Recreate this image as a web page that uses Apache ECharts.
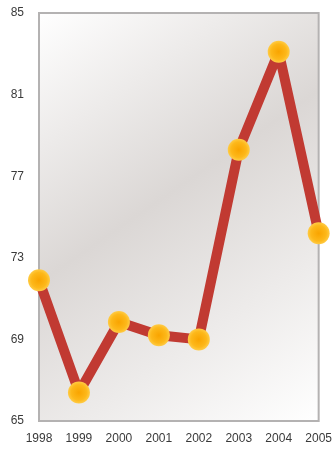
<!DOCTYPE html>
<html>
<head>
<meta charset="utf-8">
<script src="https://cdn.jsdelivr.net/npm/echarts@6/dist/echarts.min.js"></script>
<style>
  html, body { margin: 0; padding: 0; background: #ffffff; }
  #chart { width: 335px; height: 449px; }
</style>
</head>
<body>
<div id="chart"></div>
<script>
// Yearly series
const years = ['1998', '1999', '2000', '2001', '2002', '2003', '2004', '2005'];
const values = [71.9, 66.4, 69.85, 69.2, 69.0, 78.3, 83.1, 74.2];

// Value axis range and step
const yMin = 65;
const yMax = 85;
const yStep = 4;

const chart = echarts.init(document.getElementById('chart'), null, { renderer: 'canvas' });

const labelFont = { fontFamily: 'Liberation Sans, Arial, sans-serif', fontSize: 12, color: '#3a3a3a' };

chart.setOption({
  animation: false,
  backgroundColor: '#ffffff',
  grid: {
    left: 39, right: 16, top: 13, bottom: 28,
    show: true,
    borderColor: '#b4b2b2',
    borderWidth: 2,
    backgroundColor: new echarts.graphic.LinearGradient(0, 0, 1, 1, [
      { offset: 0, color: '#ffffff' },
      { offset: 0.45, color: '#dbd7d5' },
      { offset: 1, color: '#ffffff' }
    ])
  },
  xAxis: {
    type: 'category',
    data: years,
    boundaryGap: false,
    axisLine: { show: false },
    axisTick: { show: false },
    splitLine: { show: false },
    axisLabel: Object.assign({ margin: 12, interval: 0 }, labelFont)
  },
  yAxis: {
    type: 'value',
    min: yMin,
    max: yMax,
    interval: yStep,
    axisLine: { show: false },
    axisTick: { show: false },
    splitLine: { show: false },
    axisLabel: Object.assign({ margin: 15 }, labelFont)
  },
  series: [{
    type: 'line',
    data: values,
    symbol: 'circle',
    symbolSize: 22,
    lineStyle: { color: '#c13a32', width: 10, cap: 'round', join: 'round' },
    itemStyle: {
      color: new echarts.graphic.RadialGradient(0.5, 0.5, 0.5, [
        { offset: 0, color: '#f9a400' },
        { offset: 0.7, color: '#fdb81a' },
        { offset: 1, color: '#ffcb45' }
      ]),
      borderWidth: 0
    },
    emphasis: { disabled: true },
    z: 3
  }]
});
</script>
</body>
</html>
